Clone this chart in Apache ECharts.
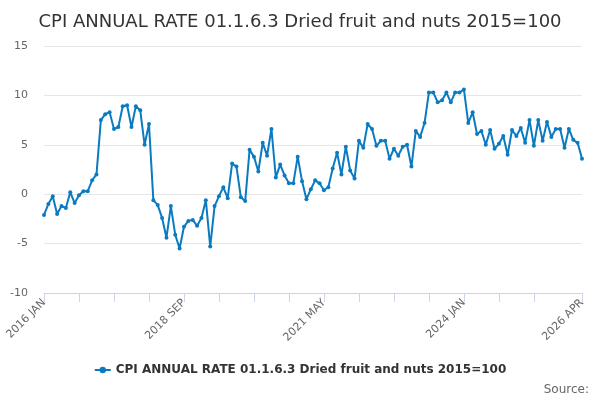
<!DOCTYPE html>
<html>
<head>
<meta charset="utf-8">
<title>CPI ANNUAL RATE 01.1.6.3 Dried fruit and nuts 2015=100</title>
<script src="https://cdn.jsdelivr.net/npm/echarts@6/dist/echarts.min.js"></script>
<style>
    html, body { margin: 0; padding: 0; background: #fff; }
    #chart { width: 600px; height: 400px; }
</style>
</head>
<body>
<div id="chart"></div>
<script>
// Chart data
const titleText = 'CPI ANNUAL RATE 01.1.6.3 Dried fruit and nuts 2015=100';
const seriesName = 'CPI ANNUAL RATE 01.1.6.3 Dried fruit and nuts 2015=100';
const monthNames = ['JAN', 'FEB', 'MAR', 'APR', 'MAY', 'JUN', 'JUL', 'AUG', 'SEP', 'OCT', 'NOV', 'DEC'];
const firstYear = 2016;
const lastYear = 2026;
const lastMonthIndex = 3; // APR

const rateValues = [
    -2.1, -1.0, -0.2, -2.0, -1.2, -1.4, 0.2, -0.9, -0.1, 0.3, 0.3, 1.4,
    2.0, 7.5, 8.1, 8.3, 6.6, 6.8, 8.9, 9.0, 6.8, 8.9, 8.5, 5.0,
    7.1, -0.6, -1.1, -2.4, -4.4, -1.2, -4.1, -5.5, -3.3, -2.7, -2.6, -3.2,
    -2.4, -0.6, -5.3, -1.2, -0.2, 0.7, -0.4, 3.1, 2.8, -0.3, -0.7, 4.5,
    3.8, 2.3, 5.2, 3.9, 6.6, 1.7, 3.0, 1.9, 1.1, 1.1, 3.8, 1.3,
    -0.5, 0.5, 1.4, 1.1, 0.4, 0.7, 2.6, 4.2, 2.0, 4.8, 2.4, 1.6,
    5.4, 4.7, 7.1, 6.6, 4.9, 5.4, 5.4, 3.6, 4.6, 3.9, 4.8, 5.0,
    2.8, 6.4, 5.8, 7.2, 10.3, 10.3, 9.3, 9.5, 10.3, 9.3, 10.3, 10.3,
    10.6, 7.2, 8.3, 6.1, 6.4, 5.0, 6.5, 4.6, 5.1, 5.9, 4.0, 6.5,
    5.9, 6.7, 5.2, 7.5, 4.9, 7.5, 5.4, 7.3, 5.8, 6.6, 6.6, 4.7,
    6.6, 5.5, 5.2, 3.6
];

const yMin = -10;
const yMax = 15;
const yStep = 5;
const labelEvery = 32;
const tickEvery = 8;

(function () {
    'use strict';

    // Build month categories
    const categories = [];
    for (let y = firstYear; y <= lastYear; y++) {
        for (let m = 0; m < 12; m++) {
            if (y === lastYear && m > lastMonthIndex) break;
            categories.push(y + ' ' + monthNames[m]);
        }
    }
    const lastIdx = categories.length - 1;

    const fontFamily = '"DejaVu Sans", Verdana, sans-serif';
    const chart = echarts.init(document.getElementById('chart'), null, { renderer: 'canvas' });

    const option = {
        animation: false,
        backgroundColor: '#ffffff',
        title: {
            text: titleText,
            left: 'center',
            top: 8,
            textStyle: {
                fontFamily: fontFamily,
                fontSize: 18,
                fontWeight: 'normal',
                color: '#333333'
            }
        },
        legend: {
            bottom: 19,
            left: 'center',
            itemWidth: 16,
            itemHeight: 8,
            itemGap: 10,
            textStyle: {
                fontFamily: fontFamily,
                fontSize: 12,
                fontWeight: 'bold',
                color: '#333333'
            },
            data: [seriesName]
        },
        grid: {
            left: 44,
            right: 18,
            top: 46,
            bottom: 107,
            containLabel: false
        },
        xAxis: {
            type: 'category',
            data: categories,
            boundaryGap: false,
            axisLine: { onZero: false, lineStyle: { color: '#ccd6eb', width: 1 } },
            axisTick: {
                length: 9,
                lineStyle: { color: '#ccd6eb' },
                interval: (idx) => (idx % tickEvery === 0 && idx <= lastIdx - 8) || idx === lastIdx
            },
            axisLabel: {
                rotate: 45,
                margin: 8,
                color: '#666666',
                fontFamily: fontFamily,
                fontSize: 11,
                interval: (idx) => idx % labelEvery === 0 || idx === lastIdx
            },
            splitLine: { show: false }
        },
        yAxis: {
            type: 'value',
            min: yMin,
            max: yMax,
            interval: yStep,
            axisLine: { show: false },
            axisTick: { show: false },
            axisLabel: {
                color: '#666666',
                fontFamily: fontFamily,
                fontSize: 11,
                margin: 16
            },
            splitLine: { lineStyle: { color: '#e6e6e6', width: 1 } }
        },
        series: [{
            name: seriesName,
            type: 'line',
            data: rateValues,
            symbol: 'circle',
            symbolSize: 4,
            showSymbol: true,
            showAllSymbol: true,
            lineStyle: { color: '#0b7bc1', width: 2 },
            itemStyle: { color: '#0b7bc1' }
        }],
        graphic: [{
            type: 'text',
            right: 11,
            bottom: 4,
            style: {
                text: 'Source:',
                fontFamily: fontFamily,
                fontSize: 12,
                fill: '#666666'
            }
        }]
    };

    chart.setOption(option);
})();
</script>
</body>
</html>
